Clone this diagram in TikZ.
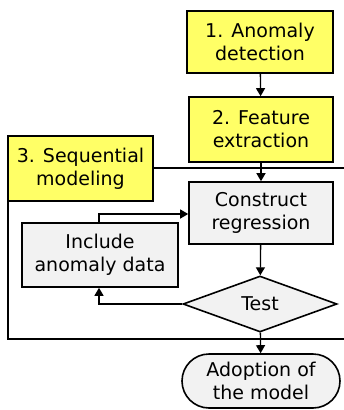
\documentclass[tikz,border=0pt]{standalone}
\usepackage{fontspec}
\setmainfont{DejaVu Sans}
\usetikzlibrary{shapes.geometric,shapes.misc,arrows.meta}
\definecolor{ylw}{HTML}{FFFF66}
\definecolor{gry}{HTML}{F2F2F2}
\tikzset{
  box/.style={draw, line width=1.6pt, align=center, inner sep=0pt,
    font=\fontsize{19}{23}\selectfont},
  ybox/.style={box, fill=ylw},
  gbox/.style={box, fill=gry},
  arr/.style={line width=1.3pt, -{Triangle[length=8pt,width=9pt]}},
}
\begin{document}
\begin{tikzpicture}[x=1pt,y=-1pt]
\useasboundingbox (0,0) rectangle (344,410);
\clip (0,0) rectangle (344,410);
% frame
\draw[line width=1.6pt] (8,168) rectangle (360,339);
% nodes
\node[ybox, minimum width=146pt, minimum height=62pt] (a) at (260,42) {1. Anomaly\\detection};
\node[ybox, minimum width=144pt, minimum height=65pt] (f) at (261,129.5) {2. Feature\\extraction};
\node[ybox, minimum width=145pt, minimum height=65pt] (s) at (80.5,168.5) {3. Sequential\\modeling};
\node[gbox, minimum width=144pt, minimum height=62pt] (c) at (261,213) {Construct\\regression};
\node[gbox, minimum width=156pt, minimum height=64pt] (i) at (100,255) {Include\\anomaly data};
\node[diamond, draw, fill=gry, line width=1.6pt, font=\fontsize{19}{23}\selectfont,
  minimum width=154pt, minimum height=56pt, aspect=2.75, inner sep=0pt] (t) at (260,304) {Test};
\node[gbox, rounded rectangle, minimum width=158pt, minimum height=54pt] (m) at (261,381) {Adoption of\\the model};
% connectors
\draw[arr] (a) -- (f);
\draw[arr] (f) -- (c);
\draw[arr] (c) -- (t);
\draw[arr] (t) -- (m);
\draw[arr] (i.north -| 99,0) |- (c.west |- 0,214);
\draw[arr] (t.west) -| (i.south -| 99,0);
\end{tikzpicture}
\end{document}
